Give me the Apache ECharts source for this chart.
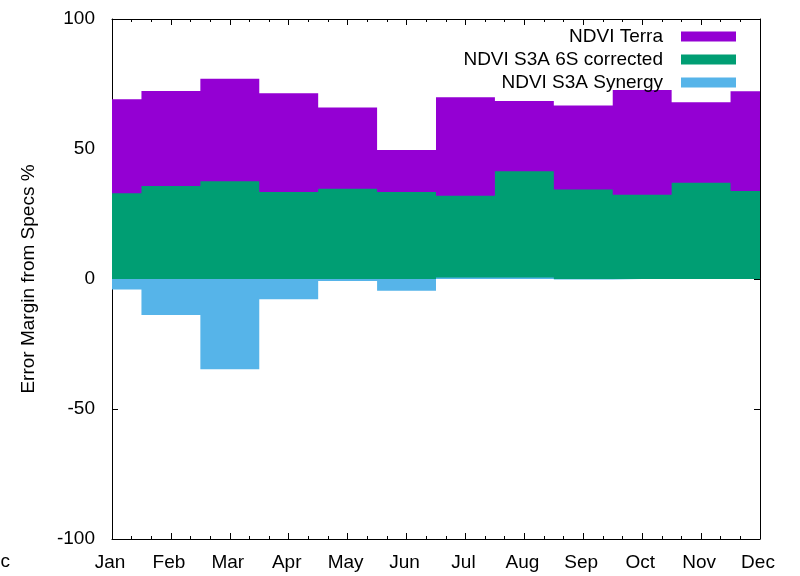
<!DOCTYPE html>
<html>
<head>
<meta charset="utf-8">
<script src="https://cdn.jsdelivr.net/npm/echarts@6/dist/echarts.min.js"></script>
<style>
html,body{margin:0;padding:0;background:#fff;}
#c{width:800px;height:576px;}
</style>
</head>
<body>
<div id="c"></div>
<script>
const months = ['Jan','Feb','Mar','Apr','May','Jun','Jul','Aug','Sep','Oct','Nov','Dec'];
const seriesNames = ['NDVI Terra','NDVI S3A 6S corrected','NDVI S3A Synergy'];
const terra   = [69.1, 72.3, 77.0, 71.4, 66.0, 49.6, 69.9, 68.5, 66.7, 72.7, 68.0, 72.2];
const s3a6s   = [33.0, 35.8, 37.6, 33.5, 34.7, 33.5, 32.0, 41.4, 34.4, 32.4, 37.0, 33.8];
const synergy = [-4.0, -13.8, -34.7, -7.8, -0.8, -4.5, 0.6, 0.6, -0.2, 0, 0, 0];
const colors = ['#9400D3', '#009E73', '#56B4E9'];
const yLabel = 'Error Margin from Specs %';

const FONT = 'Liberation Sans, Arial, sans-serif';
const chart = echarts.init(document.getElementById('c'), null, {renderer: 'canvas'});

function pairs(arr) { return arr.map((v, i) => [i + 1, v]); }

function mkSeries(name, arr, color) {
  return {
    name: name,
    type: 'line',
    step: 'middle',
    data: pairs(arr),
    symbol: 'none',
    color: color,
    lineStyle: {width: 0, color: color},
    areaStyle: {color: color, opacity: 1},
    itemStyle: {color: color},
    animation: false
  };
}

const xCommon = {
  type: 'value', min: 1, max: 12, interval: 1,
  axisLine: {show: true, lineStyle: {color: '#000', width: 1}},
  axisTick: {show: true, inside: true, length: 6, lineStyle: {color: '#000'}},
  minorTick: {show: true, splitNumber: 3, length: 3, lineStyle: {color: '#000'}},
  splitLine: {show: false}
};
const yCommon = {
  type: 'value', min: -100, max: 100, interval: 50,
  axisLine: {show: true, onZero: false, lineStyle: {color: '#000', width: 1}},
  axisTick: {show: true, inside: true, length: 6, lineStyle: {color: '#000'}},
  splitLine: {show: false}
};

chart.setOption({
  animation: false,
  backgroundColor: '#fff',
  textStyle: {fontFamily: FONT},
  grid: {left: 112, right: 40, top: 19, bottom: 37, containLabel: false},
  legend: {
    data: seriesNames,
    orient: 'vertical',
    align: 'right',
    right: 59,
    top: 22,
    itemWidth: 55,
    itemHeight: 10,
    itemGap: 4,
    icon: 'rect',
    textStyle: {fontFamily: FONT, fontSize: 19, color: '#000', padding: [0, 13, 0, 0]}
  },
  xAxis: [
    Object.assign({}, xCommon, {
      position: 'bottom',
      axisLine: {show: true, onZero: false, lineStyle: {color: '#000', width: 1}},
      axisLabel: {show: true, margin: 14, fontSize: 19, color: '#000', fontFamily: FONT,
        padding: [0, 4, 0, 0],
        formatter: v => months[Math.round(v) - 1] || ''}
    }),
    Object.assign({}, xCommon, {
      position: 'top',
      axisLine: {show: true, onZero: false, lineStyle: {color: '#000', width: 1}},
      axisLabel: {show: false}
    })
  ],
  yAxis: [
    Object.assign({}, yCommon, {
      position: 'left',
      name: yLabel,
      nameLocation: 'middle',
      nameGap: 74,
      nameRotate: 90,
      nameTextStyle: {fontSize: 19, color: '#000', fontFamily: FONT},
      axisLabel: {show: true, margin: 17, fontSize: 19, color: '#000', fontFamily: FONT}
    }),
    Object.assign({}, yCommon, {
      position: 'right',
      axisLabel: {show: false}
    })
  ],
  graphic: [{
    type: 'text',
    silent: true,
    style: {text: 'Dec', x: 10, y: 562, align: 'right', verticalAlign: 'middle',
      fontSize: 19, fontFamily: FONT, fill: '#000'}
  }],
  series: [
    mkSeries(seriesNames[0], terra, colors[0]),
    mkSeries(seriesNames[1], s3a6s, colors[1]),
    mkSeries(seriesNames[2], synergy, colors[2])
  ]
});
</script>
</body>
</html>
